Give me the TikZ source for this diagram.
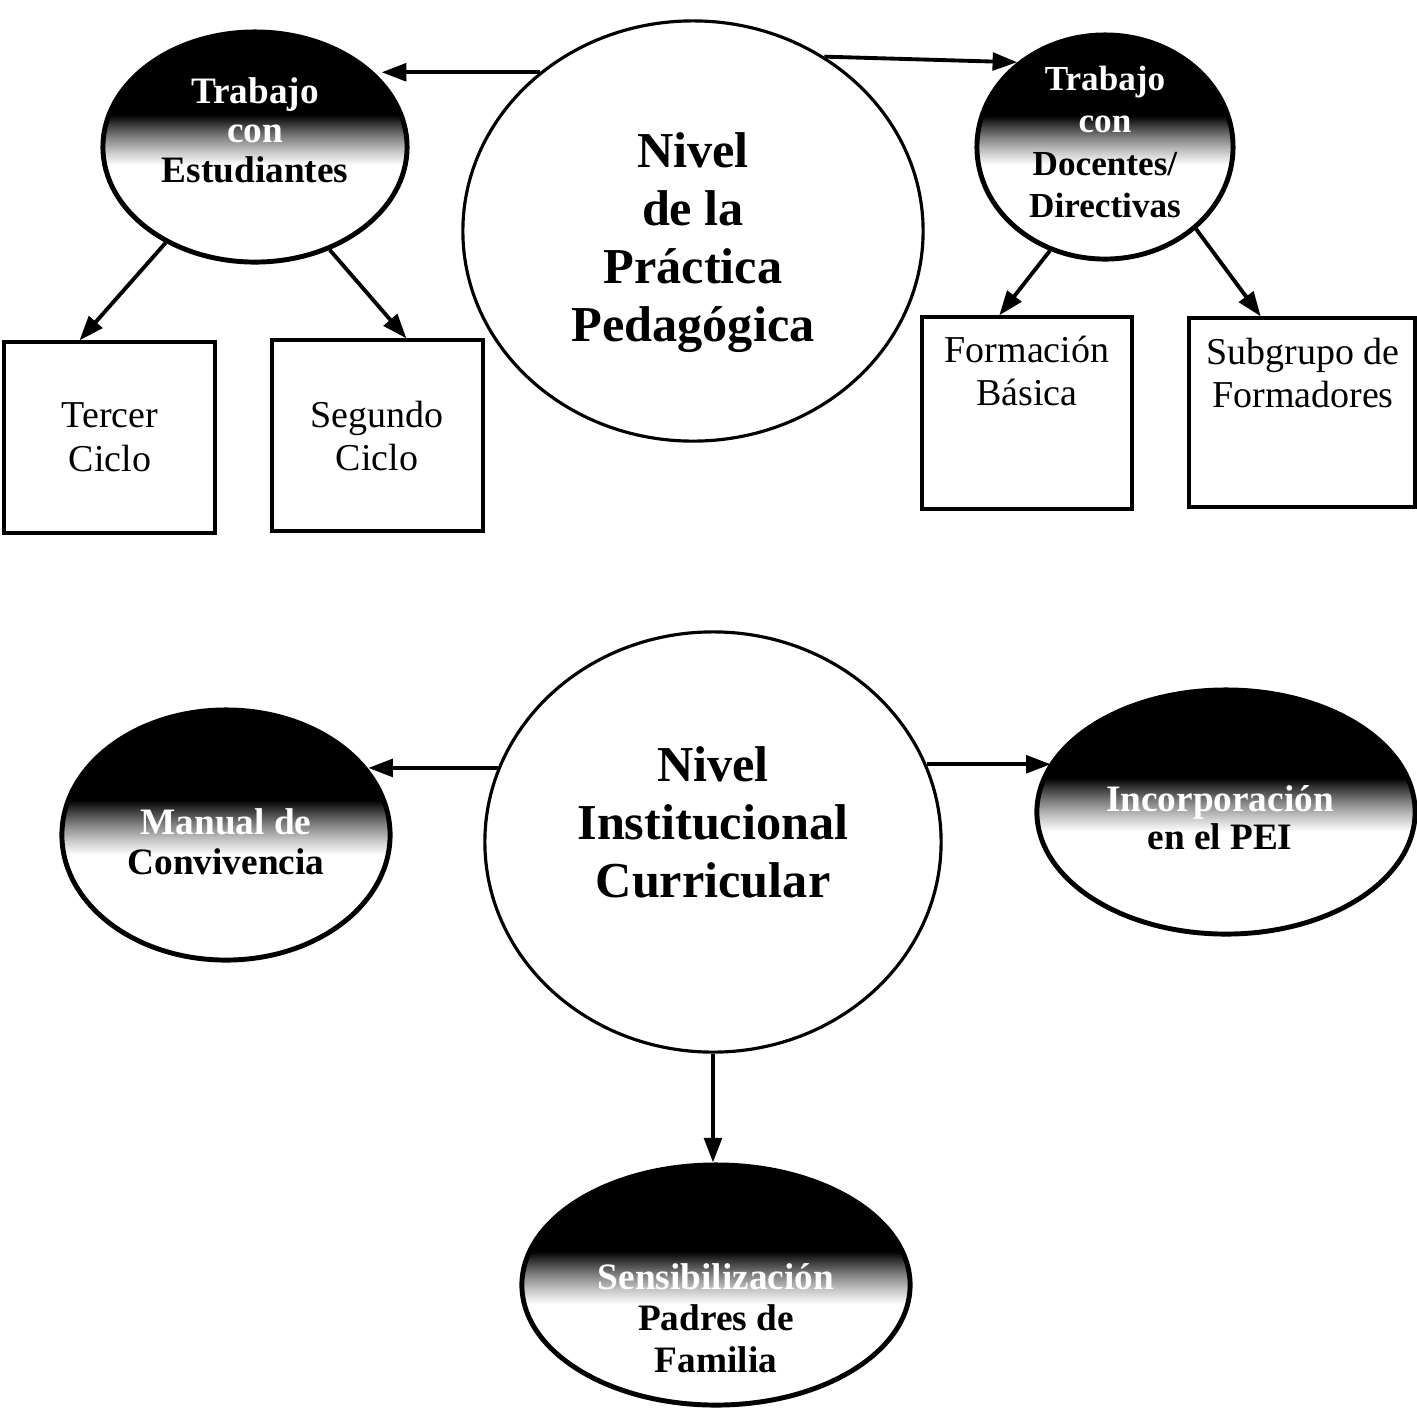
\documentclass[tikz,border=0pt]{standalone}
\usepackage{fontspec}
\setmainfont{Liberation Serif}
\usetikzlibrary{arrows.meta,calc,shapes.geometric}

% dark top half fading through grey to white below the middle
\pgfdeclareverticalshading{topdark}{100bp}{%
  color(0bp)=(white); color(46bp)=(white); color(49bp)=(black!22);
  color(52bp)=(black!48); color(55bp)=(black!78); color(57bp)=(black);
  color(100bp)=(black)}

\tikzset{
  arr/.style={line width=1.1pt,-{Triangle[length=7pt,width=5pt]}},
  bigcirc/.style={ellipse,draw,line width=0.9pt},
  darkell/.style={ellipse,draw,line width=1.4pt,shading=topdark},
  boxnode/.style={rectangle,draw,line width=0.9pt,inner sep=0pt},
  bigtxt/.style={align=center,font=\fontsize{14.3}{16.5}\selectfont\bfseries},
  boxtxt/.style={align=center,font=\fontsize{10.8}{12.4}\selectfont},
  elltxt/.style={align=center,font=\fontsize{10.6}{11.2}\selectfont\bfseries},
}

\begin{document}
\begin{tikzpicture}[x=0.01cm,y=-0.01cm]
\useasboundingbox (0,0) rectangle (1417,1411);

% ---------- upper diagram ----------
\node[bigcirc,minimum width=4.60cm,minimum height=4.20cm] (c1) at (693,231) {};
\node[bigtxt] (c1t) at (693,243) {Nivel\\de la\\Práctica\\Pedagógica};

\node[darkell,minimum width=3.04cm,minimum height=2.30cm] (e1) at (255,147) {};
\node[elltxt] (e1t) at (255,130) {\textcolor{white}{Trabajo}\\\textcolor{white}{con}\\Estudiantes};

\node[darkell,minimum width=2.56cm,minimum height=2.24cm] (e2) at (1105,147) {};
\node[elltxt,font=\fontsize{10}{12}\selectfont\bfseries] (e2t) at (1105,142) {\textcolor{white}{Trabajo}\\\textcolor{white}{con}\\Docentes/\\Directivas};

\node[boxnode,minimum width=2.11cm,minimum height=1.91cm] (b1) at (109.5,437.5) {};
\node[boxtxt] (b1t) at (110,437) {Tercer\\Ciclo};

\node[boxnode,minimum width=2.11cm,minimum height=1.91cm] (b2) at (377.5,435.5) {};
\node[boxtxt] (b2t) at (377,436) {Segundo\\Ciclo};

\node[boxnode,minimum width=2.10cm,minimum height=1.92cm] (b3) at (1027,413) {};
\node[boxtxt] (b3t) at (1027,371) {Formación\\Básica};

\node[boxnode,minimum width=2.26cm,minimum height=1.89cm] (b4) at (1302,412.5) {};
\node[boxtxt] (b4t) at (1303,373) {Subgrupo de\\Formadores};

\draw[arr] (c1.134) -- (c1.134 -| e1.28);
\draw[arr] (c1.53) -- (e2.136);
\draw[arr] (e1.227) -- ($(b1.north west)!0.36!(b1.north east)$);
\draw[arr] (e1.-54) -- ($(b2.north west)!0.635!(b2.north east)$);
\draw[arr] (e2.242) -- ($(b3.north west)!0.37!(b3.north east)$);
\draw[arr] (e2.-42) -- ($(b4.north west)!0.32!(b4.north east)$);

% ---------- lower diagram ----------
\node[bigcirc,minimum width=4.56cm,minimum height=4.20cm] (c2) at (713,842) {};
\node[bigtxt] (c2t) at (713,822) {Nivel\\Institucional\\Curricular};

\node[darkell,minimum width=3.28cm,minimum height=2.50cm] (e3) at (226,835) {};
\node[elltxt,font=\fontsize{10.6}{11.4}\selectfont\bfseries] (e3t) at (226,842) {\textcolor{white}{Manual de}\\Convivencia};

\node[darkell,minimum width=3.78cm,minimum height=2.44cm] (e4) at (1226,812) {};
\node[elltxt,font=\fontsize{10.6}{10.8}\selectfont\bfseries] (e4t) at (1220,818) {\textcolor{white}{Incorporación}\\en el PEI};

\node[darkell,minimum width=3.88cm,minimum height=2.40cm] (e5) at (716,1285) {};
\node[elltxt,font=\fontsize{10.6}{11.8}\selectfont\bfseries] (e5t) at (716,1318) {\textcolor{white}{Sensibilización}\\Padres de\\Familia};

\draw[arr] (c2.161) -- (c2.161 -| e3.25);
\draw[arr] (c2.20) -- (c2.20 -| e4.164);
\draw[arr] (c2.south) -- (c2.south |- e5.north);
\end{tikzpicture}
\end{document}
